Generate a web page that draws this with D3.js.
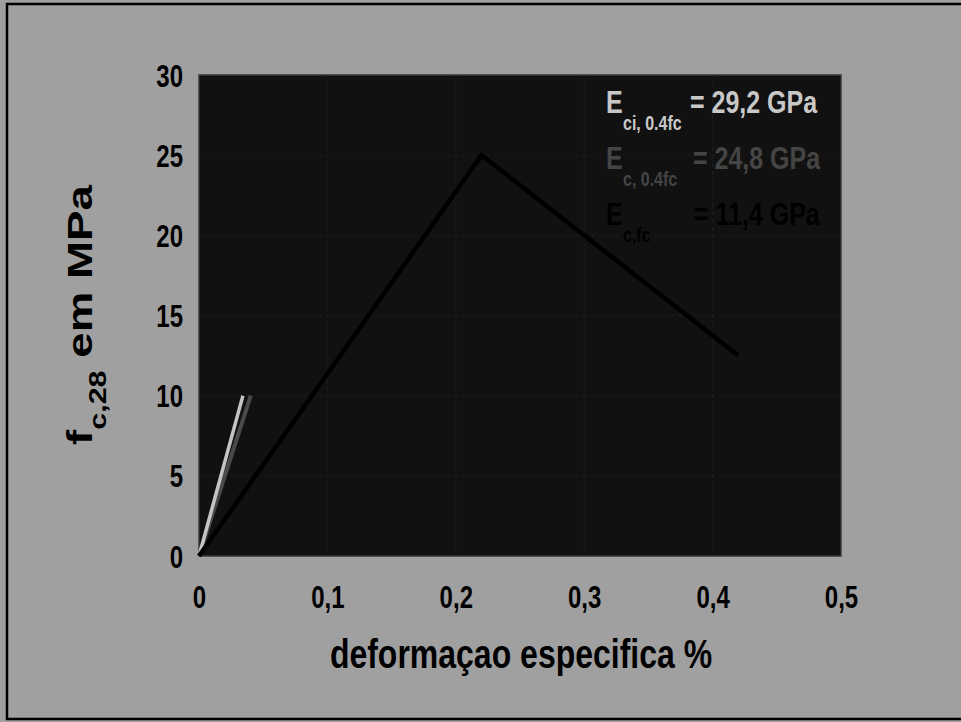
<!DOCTYPE html>
<html><head><meta charset="utf-8">
<script src="https://cdn.jsdelivr.net/npm/d3@7"></script>
<style>
html,body{margin:0;padding:0;background:#a0a0a0;overflow:hidden}
text{font-family:"Liberation Sans",Arial,sans-serif;font-weight:bold}
</style></head><body>
<script>
// Data
const curveX = [0, 0.22, 0.42];
const curveY = [0, 25, 12.5];
const eciX = [0, 0.0342];
const eciY = [0, 10];
const ecX = [0, 0.0403];
const ecY = [0, 10];
const xTicks = [0, 0.1, 0.2, 0.3, 0.4, 0.5];
const yTicks = [0, 5, 10, 15, 20, 25, 30];
const legendMain = ["E", "E", "E"];
const legendSub = ["ci, 0.4fc", "c, 0.4fc", "c,fc"];
const legendValue = ["= 29,2 GPa", "= 24,8 GPa", "= 11,4 GPa"];
const legendColor = ["#c8c8c8", "#454545", "#000000"];

const W = 961, H = 722, SY = 1.27;
const svg = d3.select("body").append("svg").attr("width", W).attr("height", H);
svg.append("rect").attr("x", 0).attr("y", 0).attr("width", W).attr("height", H).attr("fill", "#a0a0a0");
svg.append("rect").attr("x", 7).attr("y", 4).attr("width", 960).attr("height", 715)
  .attr("fill", "none").attr("stroke", "#000").attr("stroke-width", 2.5);

const L = 199, R = 841, T = 75, B = 556;
const x = d3.scaleLinear().domain([0, 0.5]).range([L, R]);
const y = d3.scaleLinear().domain([0, 30]).range([B, T]);

svg.append("rect").attr("x", L).attr("y", T).attr("width", R - L).attr("height", B - T)
  .attr("fill", "#111111").attr("stroke", "#383838").attr("stroke-width", 1.5);

// gridlines
const g = svg.append("g");
g.selectAll(".hg").data(yTicks.filter(d => d > 0 && d < 30)).join("line")
  .attr("x1", L).attr("x2", R).attr("y1", d => y(d)).attr("y2", d => y(d))
  .attr("stroke", "#1f1f1f").attr("stroke-width", 1).attr("stroke-dasharray", "4,4");
g.selectAll(".vg").data(xTicks.filter(d => d > 0 && d < 0.5)).join("line")
  .attr("y1", T).attr("y2", B).attr("x1", d => x(d)).attr("x2", d => x(d))
  .attr("stroke", "#1f1f1f").attr("stroke-width", 1).attr("stroke-dasharray", "4,4");

const fmt = d => String(d).replace(".", ",");
// stretched text helper
function stext(px, py, str, size, anchor, color) {
  const gg = svg.append("g").attr("transform", `translate(${px},${py}) scale(1,${SY})`);
  return gg.append("text").attr("x", 0).attr("y", 0).attr("font-size", size)
    .attr("text-anchor", anchor).attr("fill", color).text(str);
}
// axes
const xAxis = svg.append("g").attr("transform", `translate(0,${B})`)
  .call(d3.axisBottom(x).tickValues(xTicks).tickSize(0).tickFormat(fmt));
xAxis.select(".domain").remove();
xAxis.selectAll(".tick text").attr("font-size", 24).attr("fill", "#000")
  .attr("dy", 0).attr("y", 0)
  .attr("transform", `translate(0,52) scale(1,${SY})`)
  .style("font-family", '"Liberation Sans",Arial,sans-serif').style("font-weight", "bold");

const yAxis = svg.append("g").attr("transform", `translate(${L},0)`)
  .call(d3.axisLeft(y).tickValues(yTicks).tickSize(0).tickFormat(fmt));
yAxis.select(".domain").remove();
yAxis.selectAll(".tick text").attr("font-size", 24).attr("fill", "#000")
  .attr("dy", 0).attr("x", 0).attr("text-anchor", "end")
  .attr("transform", `translate(-16,11) scale(1,${SY})`)
  .style("font-family", '"Liberation Sans",Arial,sans-serif').style("font-weight", "bold");

// lines
const line = d3.line().x(d => x(d[0])).y(d => y(d[1]));
const zip = (a, b) => a.map((v, i) => [v, b[i]]);
svg.append("path").datum(zip(ecX, ecY)).attr("d", line).attr("fill", "none")
  .attr("stroke", "#4a4a4a").attr("stroke-width", 4);
svg.append("path").datum(zip(eciX, eciY)).attr("d", line).attr("fill", "none")
  .attr("stroke", "#c4c4c4").attr("stroke-width", 3.5);
svg.append("path").datum(zip(curveX, curveY)).attr("d", line).attr("fill", "none")
  .attr("stroke", "#000").attr("stroke-width", 4.5);

// legend
const legY = [113, 169, 225];
const valX = [690, 693, 694];
legendMain.forEach((m, i) => {
  stext(606, legY[i], m, 25, "start", legendColor[i]);
  stext(623, legY[i] + 17, legendSub[i], 16, "start", legendColor[i]);
  stext(valX[i], legY[i], legendValue[i], 25, "start", legendColor[i]);
});

// x title
stext(521, 668, "deformaçao especifica %", 32, "middle", "#000");

// y title
const yt = svg.append("g").attr("transform", `translate(92,315) scale(1,${SY}) rotate(-90)`)
  .append("text").attr("text-anchor", "middle").attr("fill", "#000").attr("font-size", 36);
yt.append("tspan").text("f");
yt.append("tspan").attr("font-size", 24).attr("dy", 14).text("c,28");
yt.append("tspan").attr("dy", -14).text(" em MPa");
</script>
</body></html>
